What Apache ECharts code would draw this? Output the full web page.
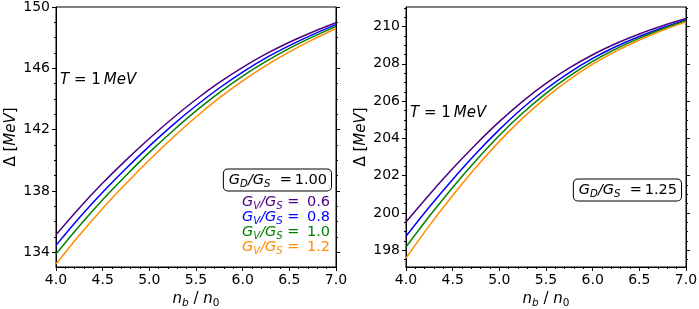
<!DOCTYPE html>
<html>
<head>
<meta charset="utf-8">
<script src="https://cdn.jsdelivr.net/npm/echarts@6/dist/echarts.min.js"></script>
<style>
html,body{margin:0;padding:0;background:#fff;}
#chart{width:699px;height:309px;}
</style>
</head>
<body>
<div id="chart"></div>
<script>
// ---- data ----
const density = [4.0, 4.25, 4.5, 4.75, 5.0, 5.25, 5.5, 5.75, 6.0, 6.25, 6.5, 6.75, 7.0];
// left panel: G_D/G_S = 1.00
const leftGV06 = [135.15, 136.9, 138.52, 140.02, 141.43, 142.75, 143.97, 145.08, 146.07, 146.94, 147.70, 148.37, 148.97];
const leftGV08 = [134.46, 136.26, 137.92, 139.47, 140.93, 142.30, 143.56, 144.72, 145.76, 146.68, 147.48, 148.20, 148.85];
const leftGV10 = [133.90, 135.73, 137.44, 139.02, 140.52, 141.92, 143.23, 144.42, 145.50, 146.45, 147.30, 148.05, 148.74];
const leftGV12 = [133.24, 135.12, 136.87, 138.49, 140.03, 141.48, 142.83, 144.07, 145.18, 146.18, 147.07, 147.87, 148.60];
// right panel: G_D/G_S = 1.25
const rightGV06 = [199.52, 200.98, 202.38, 203.69, 204.90, 205.99, 206.95, 207.78, 208.49, 209.09, 209.60, 210.04, 210.43];
const rightGV08 = [198.75, 200.32, 201.80, 203.19, 204.47, 205.63, 206.65, 207.53, 208.29, 208.93, 209.47, 209.94, 210.36];
const rightGV10 = [198.17, 199.82, 201.37, 202.82, 204.16, 205.36, 206.42, 207.34, 208.13, 208.80, 209.38, 209.87, 210.31];
const rightGV12 = [197.58, 199.32, 200.94, 202.45, 203.84, 205.09, 206.19, 207.15, 207.98, 208.68, 209.28, 209.80, 210.25];

const gvLabels = ['0.6', '0.8', '1.0', '1.2'];
const gdLabels = ['1.00', '1.25'];
const leftMajorTicks = [134, 138, 142, 146, 150];
const leftMinorTicks = [134,135,136,137,138,139,140,141,142,143,144,145,146,147,148,149,150];
const rightMajorTicks = [198, 200, 202, 204, 206, 208, 210];
const rightMinorTicks = [197.5,198,198.5,199,199.5,200,200.5,201,201.5,202,202.5,203,203.5,204,204.5,205,205.5,206,206.5,207,207.5,208,208.5,209,209.5,210,210.5,211];
const colors = ['#4b0082', '#0000ff', '#008000', '#ff8c00'];

// ---- chart ----
const FONT = 'DejaVu Sans';
const chart = echarts.init(document.getElementById('chart'), null, {renderer: 'canvas'});

const zip = (xs, ys) => xs.map((x, i) => [x, ys[i]]);

function xAxisDef(gi) {
  return {
    gridIndex: gi, type: 'value', min: 4, max: 7, interval: 0.5,
    axisLine: {show: true, onZero: false, lineStyle: {color: '#000', width: 1}},
    axisTick: {show: true, length: 4, lineStyle: {color: '#000'}},
    minorTick: {show: true, splitNumber: 5, length: 2, lineStyle: {color: '#000'}},
    splitLine: {show: false},
    axisLabel: {color: '#000', fontSize: 14, fontFamily: FONT, margin: 6,
      formatter: v => v.toFixed(1)},
    name: '{i|n}{s|b}{r| / }{i|n}{z|0}',
    nameLocation: 'middle', nameGap: 23,
    nameTextStyle: {color: '#000', fontSize: 15, fontFamily: FONT, rich: {
      i: {fontStyle: 'italic', fontSize: 15, fontFamily: FONT, color: '#000'},
      r: {fontSize: 15, fontFamily: FONT, color: '#000'},
      s: {fontStyle: 'italic', fontSize: 10.5, fontFamily: FONT, color: '#000', padding: [8, 0, 0, 0]},
      z: {fontSize: 10.5, fontFamily: FONT, color: '#000', padding: [8, 0, 0, 0]}
    }}
  };
}
function yAxisDef(gi, min, max, major, minor, pos, withLabel) {
  return [{
    gridIndex: gi, type: 'value', min: min, max: max, position: pos,
    axisLine: {show: true, onZero: false, lineStyle: {color: '#000', width: 1}},
    axisTick: {show: true, length: 4, customValues: major, lineStyle: {color: '#000'}},
    splitLine: {show: false},
    axisLabel: {show: withLabel, customValues: major, color: '#000', fontSize: 14, fontFamily: FONT, margin: 6},
    name: withLabel ? '{r|Δ [}{i|MeV}{r|]}' : '',
    nameLocation: 'middle', nameRotate: 90, nameGap: 37,
    nameTextStyle: {rich: {
      i: {fontStyle: 'italic', fontSize: 15, fontFamily: FONT, color: '#000'},
      r: {fontSize: 15, fontFamily: FONT, color: '#000'}
    }}
  }, {
    gridIndex: gi, type: 'value', min: min, max: max, position: pos,
    axisLine: {show: false},
    axisTick: {show: true, length: 2, customValues: minor, lineStyle: {color: '#000'}},
    splitLine: {show: false},
    axisLabel: {show: false, customValues: minor}
  }];
}

const yAxes = [].concat(
  yAxisDef(0, 133.05, 150, leftMajorTicks, leftMinorTicks, 'left', true),   // 0,1
  yAxisDef(0, 133.05, 150, leftMajorTicks, leftMinorTicks, 'right', false), // 2,3
  yAxisDef(1, 197.1, 211.05, rightMajorTicks, rightMinorTicks, 'left', true), // 4,5
  yAxisDef(1, 197.1, 211.05, rightMajorTicks, rightMinorTicks, 'right', false) // 6,7
);

const leftSets = [leftGV06, leftGV08, leftGV10, leftGV12];
const rightSets = [rightGV06, rightGV08, rightGV10, rightGV12];
const series = [];
leftSets.forEach((ys, k) => series.push({
  type: 'line', xAxisIndex: 0, yAxisIndex: 0, data: zip(density, ys), smooth: 0.35,
  showSymbol: false, symbol: 'none', lineStyle: {color: colors[k], width: 1.5}, silent: true
}));
rightSets.forEach((ys, k) => series.push({
  type: 'line', xAxisIndex: 1, yAxisIndex: 4, data: zip(density, ys), smooth: 0.35,
  showSymbol: false, symbol: 'none', lineStyle: {color: colors[k], width: 1.5}, silent: true
}));

function richFor(c, fs) {
  return {
    i: {fontStyle: 'italic', fontSize: fs, fontFamily: FONT, fill: c},
    r: {fontSize: fs, fontFamily: FONT, fill: c},
    s: {fontStyle: 'italic', fontSize: fs * 0.7, fontFamily: FONT, fill: c, padding: [8, 0, 0, 0]}
  };
}
function tText(x, y) {
  return {type: 'text', x: x, y: y, style: {
    text: '{i|T}{r| = 1}{i|\u2009MeV}', verticalAlign: 'middle', align: 'left',
    rich: richFor('#000', 15)
  }};
}
function gdBox(x, y, val) {
  return {type: 'text', x: x, y: y, style: {
    text: '{i|G}{s|D}{i|/G}{s|S}{r|  =\u2009' + val + '}', align: 'right', verticalAlign: 'middle',
    borderColor: '#000', borderWidth: 1, borderRadius: 4, padding: [2, 4, 1, 5], backgroundColor: '#fff',
    rich: richFor('#000', 14.5)
  }};
}
function gvText(x, y, val, c) {
  return {type: 'text', x: x, y: y, style: {
    text: '{i|G}{s|V}{i|/G}{s|S}{r| = \u2009' + val + '}', align: 'right', verticalAlign: 'middle',
    rich: richFor(c, 14.5)
  }};
}

const graphics = [
  tText(60, 80), tText(410, 113),
  gdBox(331, 180, gdLabels[0]), gdBox(681, 190, gdLabels[1])
];
gvLabels.forEach((v, k) => graphics.push(gvText(330, 202 + 15 * k, v, colors[k])));

chart.setOption({
  animation: false,
  backgroundColor: '#fff',
  grid: [
    {left: 56, top: 7, width: 280, height: 260, show: true, borderColor: '#000', borderWidth: 1, backgroundColor: 'transparent', outerBoundsMode: 'none', containLabel: false},
    {left: 406, top: 7, width: 280, height: 260, show: true, borderColor: '#000', borderWidth: 1, backgroundColor: 'transparent', outerBoundsMode: 'none', containLabel: false}
  ],
  xAxis: [xAxisDef(0), xAxisDef(1)],
  yAxis: yAxes,
  series: series,
  graphic: graphics
});
</script>
</body>
</html>
